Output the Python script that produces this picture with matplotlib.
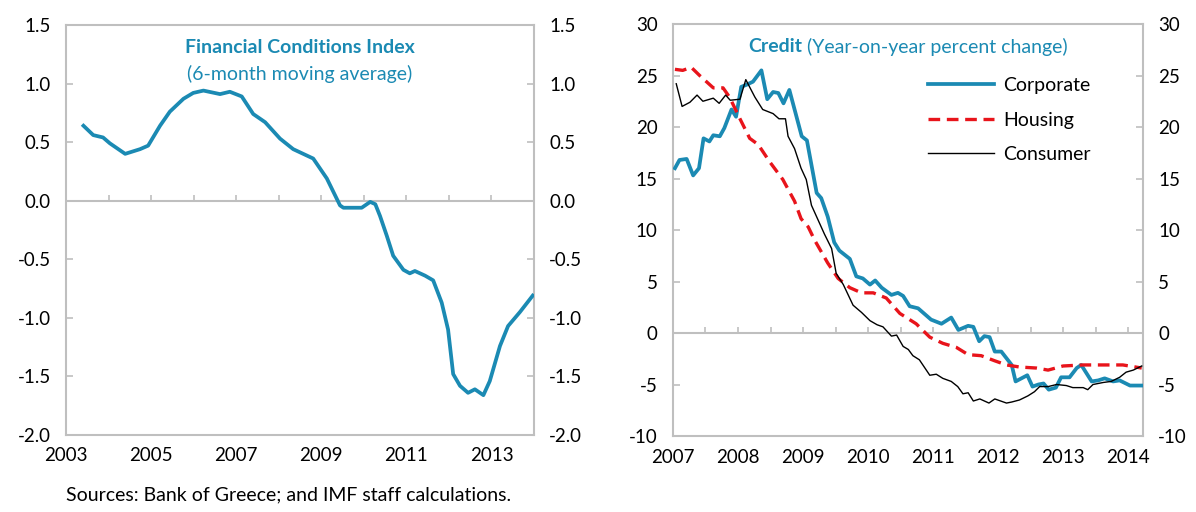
import matplotlib
matplotlib.use("Agg")
import matplotlib.pyplot as plt

plt.rcParams['font.family'] = ['Lato', 'DejaVu Sans']

BLUE = '#1B8AB3'
GRAY = '#BFBFBF'

# Financial Conditions Index (6-month moving average)
fci_year = [2003.41, 2003.64, 2003.87, 2004.03, 2004.39, 2004.74, 2004.93, 2005.21, 2005.44,
            2005.76, 2005.99, 2006.23, 2006.62, 2006.85, 2007.13, 2007.40, 2007.68, 2008.03,
            2008.34, 2008.81, 2009.13, 2009.44, 2009.52, 2009.95, 2010.15, 2010.27, 2010.38,
            2010.54, 2010.69, 2010.93, 2011.08, 2011.20, 2011.44, 2011.63, 2011.83, 2011.98,
            2012.10, 2012.26, 2012.45, 2012.61, 2012.81, 2012.96, 2013.20, 2013.39, 2013.67,
            2013.97]
fci_value = [0.64, 0.56, 0.54, 0.49, 0.40, 0.44, 0.47, 0.64, 0.76,
             0.87, 0.92, 0.94, 0.91, 0.93, 0.89, 0.74, 0.67, 0.53,
             0.44, 0.36, 0.19, -0.04, -0.06, -0.06, -0.01, -0.03, -0.13,
             -0.30, -0.47, -0.59, -0.62, -0.60, -0.64, -0.68, -0.87, -1.10,
             -1.48, -1.58, -1.64, -1.61, -1.66, -1.54, -1.24, -1.07, -0.95,
             -0.81]

# Credit, year-on-year percent change
corp_year = [2007.03, 2007.10, 2007.21, 2007.31, 2007.40, 2007.47, 2007.56, 2007.62, 2007.72,
             2007.79, 2007.90, 2007.97, 2008.05, 2008.13, 2008.23, 2008.36, 2008.45, 2008.54,
             2008.62, 2008.70, 2008.79, 2008.90, 2008.98, 2009.06, 2009.21, 2009.28, 2009.38,
             2009.48, 2009.56, 2009.72, 2009.82, 2009.92, 2010.03, 2010.11, 2010.21, 2010.36,
             2010.46, 2010.54, 2010.64, 2010.77, 2010.97, 2011.13, 2011.28, 2011.39, 2011.54,
             2011.62, 2011.71, 2011.79, 2011.87, 2011.95, 2012.05, 2012.21, 2012.27, 2012.36,
             2012.45, 2012.53, 2012.62, 2012.70, 2012.78, 2012.89, 2012.97, 2013.10, 2013.21,
             2013.28, 2013.44, 2013.54, 2013.64, 2013.77, 2013.87, 2014.03, 2014.21]
corp_value = [16.0, 16.8, 16.9, 15.3, 16.0, 18.9, 18.6, 19.2, 19.1,
              19.9, 21.7, 21.0, 23.9, 24.1, 24.4, 25.5, 22.7, 23.4,
              23.3, 22.3, 23.6, 21.0, 19.1, 18.7, 13.6, 13.1, 11.3,
              8.8, 8.0, 7.2, 5.5, 5.3, 4.7, 5.1, 4.4, 3.7,
              3.9, 3.6, 2.6, 2.4, 1.3, 0.9, 1.5, 0.3, 0.7,
              0.6, -0.8, -0.3, -0.4, -1.8, -1.8, -3.1, -4.7, -4.4,
              -4.1, -5.2, -5.0, -4.9, -5.5, -5.3, -4.3, -4.3, -3.4,
              -3.1, -4.7, -4.6, -4.4, -4.7, -4.6, -5.1, -5.1]

house_year = [2007.03, 2007.15, 2007.28, 2007.41, 2007.62, 2007.77, 2007.87, 2008.03, 2008.18,
              2008.31, 2008.49, 2008.69, 2008.87, 2008.97, 2009.08, 2009.18, 2009.38, 2009.54,
              2009.72, 2009.90, 2010.08, 2010.28, 2010.49, 2010.74, 2010.95, 2011.15, 2011.36,
              2011.54, 2011.74, 2011.95, 2012.13, 2012.33, 2012.59, 2012.77, 2013.00, 2013.31,
              2013.67, 2013.92, 2014.21]
house_value = [25.6, 25.5, 25.8, 25.0, 23.8, 23.8, 22.9, 20.8, 18.9,
               18.3, 16.6, 14.9, 12.8, 11.1, 10.3, 9.0, 6.8, 5.3,
               4.4, 3.9, 3.9, 3.4, 1.9, 0.9, -0.4, -1.0, -1.4,
               -2.1, -2.2, -2.7, -3.1, -3.3, -3.4, -3.6, -3.2, -3.1,
               -3.1, -3.1, -3.4]

cons_year = [2007.05, 2007.14, 2007.26, 2007.37, 2007.46, 2007.62, 2007.71, 2007.81, 2007.88,
             2008.03, 2008.12, 2008.26, 2008.38, 2008.54, 2008.63, 2008.73, 2008.77, 2008.87,
             2008.97, 2009.05, 2009.13, 2009.23, 2009.33, 2009.44, 2009.51, 2009.62, 2009.77,
             2009.90, 2010.03, 2010.14, 2010.23, 2010.36, 2010.44, 2010.54, 2010.62, 2010.69,
             2010.79, 2010.95, 2011.05, 2011.15, 2011.28, 2011.38, 2011.46, 2011.54, 2011.62,
             2011.72, 2011.86, 2011.95, 2012.13, 2012.21, 2012.33, 2012.46, 2012.56, 2012.64,
             2012.77, 2012.90, 2013.05, 2013.15, 2013.31, 2013.38, 2013.46, 2013.62, 2013.74,
             2013.87, 2013.97, 2014.08, 2014.21]
cons_value = [24.2, 22.0, 22.4, 23.1, 22.5, 22.8, 22.3, 23.1, 22.6,
              22.7, 24.6, 22.9, 21.7, 21.3, 20.8, 20.8, 19.1, 17.9,
              16.0, 14.9, 12.4, 11.0, 9.6, 8.2, 5.8, 4.7, 2.7,
              2.0, 1.2, 0.8, 0.6, -0.3, -0.2, -1.3, -1.6, -2.2,
              -2.6, -4.1, -4.0, -4.4, -4.7, -5.2, -5.9, -5.8, -6.6,
              -6.4, -6.8, -6.4, -6.8, -6.7, -6.5, -6.1, -5.7, -5.2,
              -5.2, -5.0, -5.1, -5.3, -5.3, -5.5, -5.0, -4.8, -4.7,
              -4.3, -3.8, -3.6, -3.2]

left_yticks = [-2.0, -1.5, -1.0, -0.5, 0.0, 0.5, 1.0, 1.5]
left_xlabels = [2003, 2005, 2007, 2009, 2011, 2013]
left_minor = list(range(2004, 2014))
right_yticks = [-10, -5, 0, 5, 10, 15, 20, 25, 30]
right_xlabels = [2007, 2008, 2009, 2010, 2011, 2012, 2013, 2014]
right_minor = [2007.5 + 0.5 * i for i in range(14)]

FS = 13.5


def style_axes(ax, yticks, fmt):
    for s in ax.spines.values():
        s.set_color(GRAY)
        s.set_linewidth(1.5)
    ax.set_yticks(yticks)
    ax.set_yticklabels([fmt.format(v) for v in yticks])
    ax.tick_params(axis='y', left=True, right=True, labelleft=True, labelright=True,
                   direction='in', length=5, width=1.2, color=GRAY, pad=11,
                   labelsize=FS)
    ax.tick_params(axis='x', length=0, pad=9, labelsize=FS)
    ax.axhline(0, color=GRAY, lw=1.5, zorder=1)


fig = plt.figure(figsize=(11.96, 5.12), dpi=100)

# left panel
ax1 = fig.add_axes([0.0552, 0.1504, 0.3913, 0.8008])
ax1.plot(fci_year, fci_value, color=BLUE, lw=2.7, solid_joinstyle='round', zorder=3)
ax1.set_xlim(2003, 2014)
ax1.set_ylim(-2.0, 1.5)
style_axes(ax1, left_yticks, '{:.1f}')
ax1.set_xticks(left_xlabels)
ax1.set_xticklabels([str(y) for y in left_xlabels])
ax1.vlines(left_minor, 0, 0.05, color=GRAY, lw=1.2, zorder=1)
ax1.text(0.5, 0.945, 'Financial Conditions Index', transform=ax1.transAxes,
         ha='center', va='center', color=BLUE, fontsize=14, fontweight='bold')
ax1.text(0.5, 0.88, '(6-month moving average)', transform=ax1.transAxes,
         ha='center', va='center', color=BLUE, fontsize=14)

# right panel
ax2 = fig.add_axes([0.5627, 0.1484, 0.393, 0.8047])
ax2.plot(corp_year, corp_value, color=BLUE, lw=2.7, label='Corporate', zorder=3)
ax2.plot(house_year, house_value, color='#E8141B', lw=2.4, ls=(0, (3.5, 2)),
         label='Housing', zorder=3)
ax2.plot(cons_year, cons_value, color='black', lw=1.0, label='Consumer', zorder=4)
ax2.set_xlim(2007, 2014.23)
ax2.set_ylim(-10, 30)
style_axes(ax2, right_yticks, '{:.0f}')
ax2.set_xticks(right_xlabels)
ax2.set_xticklabels([str(y) for y in right_xlabels])
ax2.vlines(right_minor, 0, 0.6, color=GRAY, lw=1.2, zorder=1)
t = ax2.text(0.16, 0.945, 'Credit', transform=ax2.transAxes, ha='left', va='center',
             color=BLUE, fontsize=14, fontweight='bold')
ax2.annotate(' (Year-on-year percent change)', xycoords=t, xy=(1, 0.5), va='center',
             ha='left', color=BLUE, fontsize=14)
ax2.legend(loc='upper left', bbox_to_anchor=(0.525, 0.89), frameon=False, fontsize=14,
           handlelength=3.4, handletextpad=0.5, labelspacing=0.9, borderaxespad=0)

fig.text(0.055, 0.033, 'Sources: Bank of Greece; and IMF staff calculations.',
         fontsize=14, ha='left', va='center')

fig.savefig('out.png', dpi=100)
